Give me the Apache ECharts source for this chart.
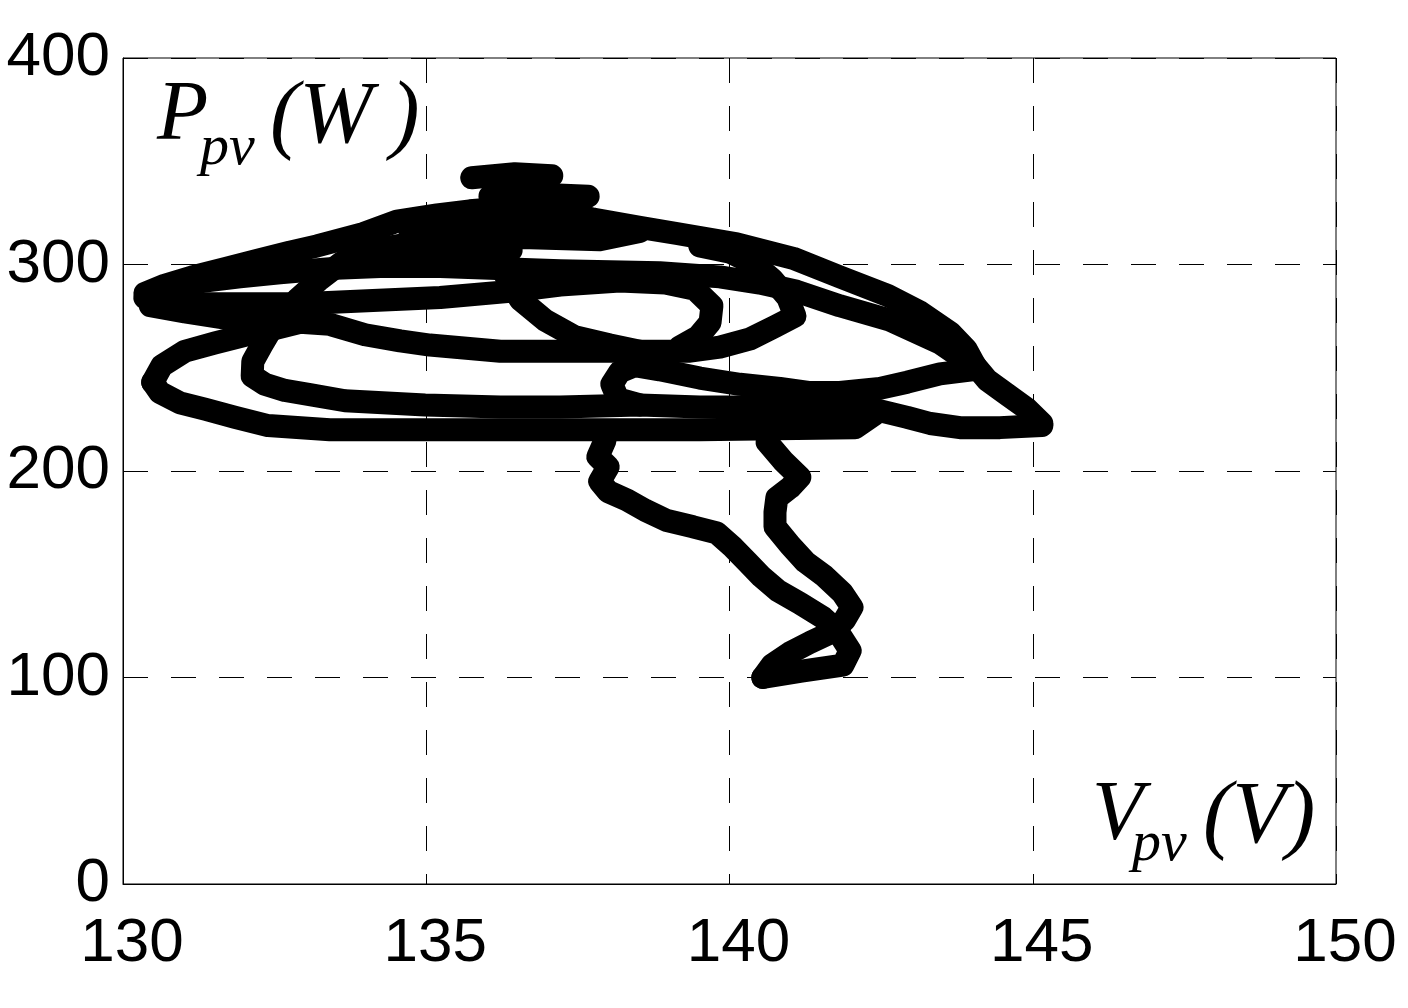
<!DOCTYPE html>
<html><head><meta charset="utf-8">
<script src="https://cdn.jsdelivr.net/npm/echarts@6/dist/echarts.min.js"></script>
<style>html,body{margin:0;padding:0;background:#fff}#c{width:1408px;height:1008px}</style>
</head><body><div id="c"></div>
<script>
// Tick labels
const xTicks = [130, 135, 140, 145, 150];
const yTicks = [0, 100, 200, 300, 400];

// Trajectory strands [Vpv (V), Ppv (W)]
const outerArc = [[130.36,286],[130.69,290],[131.14,294],[131.68,298],[132.21,302],[132.75,306],[133.20,309],[133.96,315],[134.52,321],[135.18,324],[135.72,326],[136.55,328],[137.21,326],[137.75,322],[138.52,318],[139.13,315],[140.12,310],[141.05,303],[141.82,294],[142.61,285],[143.14,277],[143.64,267],[143.90,259],[144.05,251],[144.25,244],[144.58,237],[144.91,230],[145.15,223]];
const outerReturn = [[145.15,222],[144.46,221],[143.80,221],[143.31,223],[142.93,226],[142.37,230]];
const band230 = [[142.37,230],[141.82,231],[140.83,231],[139.51,231],[138.52,232],[137.21,231],[136.22,231],[134.98,232],[133.66,234],[133.08,237],[132.67,239],[132.34,242],[132.13,246],[132.14,253],[132.29,261],[132.51,272],[132.87,283],[133.25,293],[133.61,301],[134.11,307],[134.90,311],[135.72,313],[136.71,313],[137.86,312],[138.52,316]];
const lowerCurl = [[144.00,249],[143.47,247],[142.93,243],[142.48,240],[141.82,238],[141.33,238],[140.83,240],[140.17,242],[139.51,245],[138.85,249],[138.44,251],[138.19,248],[138.06,242],[138.16,235],[138.52,232]];
const midArc = [[144.05,251],[143.97,252],[143.47,262],[142.65,273],[141.82,280],[141.11,287],[140.50,291],[139.84,294],[138.85,296],[137.21,297],[135.23,299],[134.24,299],[133.41,298],[132.59,296],[131.93,294],[131.35,292],[130.69,288]];
const upperBand = [[130.36,284],[131.27,281],[132.92,281],[135.23,284],[136.38,287],[137.21,290],[138.19,292],[138.94,291],[139.43,288],[139.71,280],[139.68,272],[139.48,265],[139.18,260]];
const rise258 = [[130.49,243],[130.64,251],[131.02,258],[131.52,262],[132.06,266],[132.51,269],[132.92,272],[133.41,271],[133.99,266],[134.57,263],[135.06,261],[136.22,258],[137.86,258],[139.35,258],[139.84,260],[140.34,264],[140.75,270],[141.08,275],[140.96,284],[140.70,293],[140.42,300],[140.01,306],[139.51,309]];
const band220 = [[130.49,243],[130.61,238],[130.94,233],[131.35,230],[131.85,226],[132.39,222],[133.41,220],[136.22,220],[139.51,220],[142.07,221],[142.37,227]];
const diagonal = [[136.13,309],[136.30,295],[136.55,283],[136.96,273],[137.45,265],[138.03,261],[138.52,258]];
const topCluster1 = [[135.75,342],[136.46,344],[137.07,343]];
const topCluster2 = [[136.05,333],[136.88,334],[137.67,333]];
const clusterFill = [[134.73,316],[135.72,319],[136.88,321],[137.86,319]];
const clusterFill2 = [[133.90,309],[134.90,307],[135.80,306],[136.40,307]];
const tipFill = [[130.45,280],[131.02,277],[131.68,274],[132.34,273]];
const tailLeft = [[137.95,215],[137.83,207],[138.00,202],[137.86,195],[138.00,190],[138.31,186],[138.61,181],[138.97,176],[139.40,173],[139.79,170],[140.06,163],[140.29,156],[140.52,149],[140.80,142],[141.16,136],[141.54,129],[141.77,123],[141.99,113],[141.87,106],[141.16,103],[140.55,100]];
const tailRight = [[140.62,214],[140.88,205],[141.16,197],[141.00,192],[140.78,187],[140.75,180],[140.75,173],[141.00,164],[141.25,156],[141.57,149],[141.86,141],[142.02,134],[141.90,128],[141.69,122],[141.33,117],[141.00,112],[140.70,106],[140.55,100]];

const strands = [outerArc, outerReturn, band230, lowerCurl, midArc, upperBand, rise258, band220, diagonal, topCluster1, topCluster2, clusterFill, clusterFill2, tipFill, tailLeft, tailRight];

const tickFont = "'Liberation Sans Narrow','Liberation Sans',Arial,sans-serif";
const serifItalic = (s) => 'italic ' + s + 'px "Liberation Serif","Times New Roman",serif';

const chart = echarts.init(document.getElementById('c'), null, {renderer: 'canvas'});
chart.setOption({
  animation: false,
  backgroundColor: '#fff',
  grid: {left: 123, right: 72, top: 58, bottom: 124, show: true, borderColor: '#000', borderWidth: 1, backgroundColor: 'transparent'},
  xAxis: {
    type: 'value', min: xTicks[0], max: xTicks[xTicks.length - 1], interval: xTicks[1] - xTicks[0],
    axisLine: {show: true, onZero: false, lineStyle: {color: '#000', width: 1}},
    axisTick: {show: false},
    axisLabel: {color: '#000', fontSize: 62, fontFamily: tickFont, margin: 29, padding: [0, 0, 0, 18]},
    splitLine: {show: true, lineStyle: {color: '#000', width: 1, type: [25, 23]}}
  },
  yAxis: {
    type: 'value', min: yTicks[0], max: yTicks[yTicks.length - 1], interval: yTicks[1] - yTicks[0],
    axisLine: {show: true, onZero: false, lineStyle: {color: '#000', width: 1}},
    axisTick: {show: false},
    axisLabel: {color: '#000', fontSize: 62, fontFamily: tickFont, margin: 13},
    splitLine: {show: true, lineStyle: {color: '#000', width: 1, type: [25, 23]}}
  },
  series: strands.map(d => ({
    type: 'line', data: d, symbol: 'none', showSymbol: false, clip: true, z: 3,
    lineStyle: {color: '#000', width: 23, cap: 'round', join: 'round'}
  })),
  graphic: [
    {type: 'text', z: 10, style: {text: 'P', x: 157, y: 117, font: serifItalic(84), fill: '#000', align: 'left', verticalAlign: 'middle'}},
    {type: 'text', z: 10, style: {text: 'pv', x: 200, y: 149, font: serifItalic(58), fill: '#000', align: 'left', verticalAlign: 'middle'}},
    {type: 'text', z: 10, style: {text: '(W\u2009)', x: 270, y: 119, font: serifItalic(88), fill: '#000', align: 'left', verticalAlign: 'middle'}},
    {type: 'text', z: 10, style: {text: 'V', x: 1092, y: 817, font: serifItalic(84), fill: '#000', align: 'left', verticalAlign: 'middle'}},
    {type: 'text', z: 10, style: {text: 'pv', x: 1132, y: 845, font: serifItalic(58), fill: '#000', align: 'left', verticalAlign: 'middle'}},
    {type: 'text', z: 10, style: {text: '(V)', x: 1203, y: 819, font: serifItalic(88), fill: '#000', align: 'left', verticalAlign: 'middle'}}
  ]
});
</script></body></html>
